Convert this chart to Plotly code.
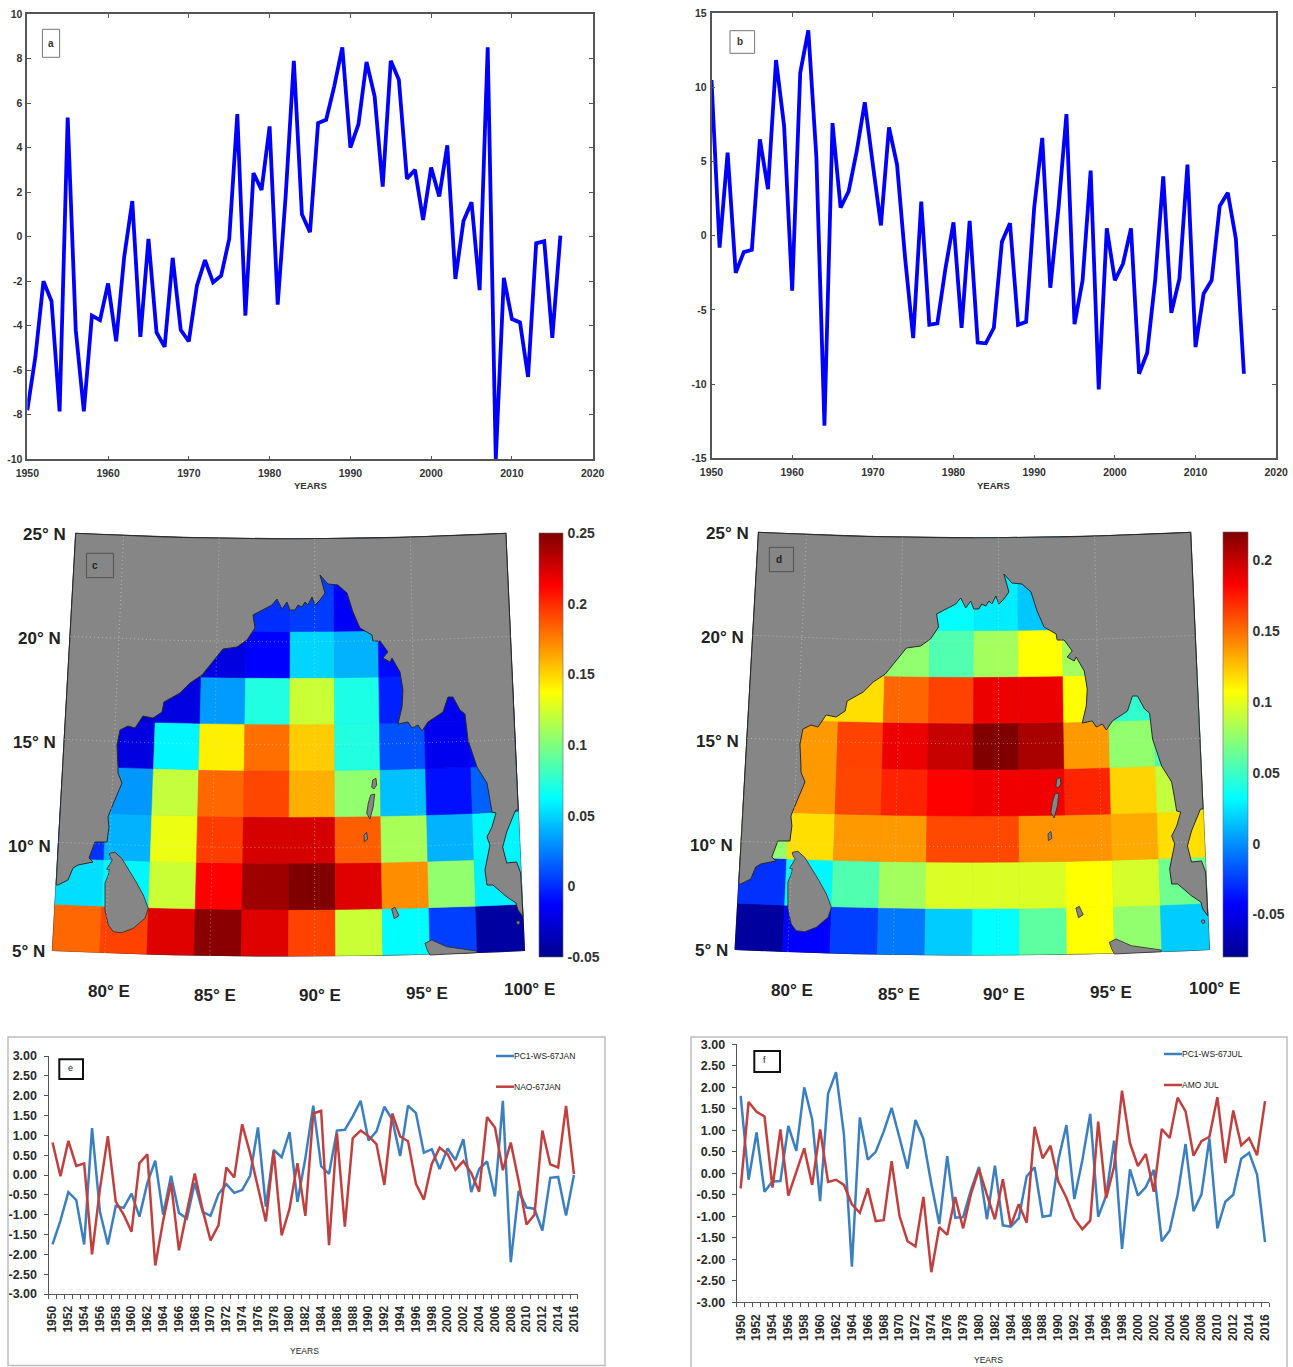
import numpy as np
import plotly.graph_objects as go
from plotly.colors import sample_colorscale

W, H = 1293, 1367
YEARS = list(range(1950, 2017))

PC_JAN_RAW = [-7.8,-5.4,-2.0,-2.9,-7.85,5.35,-4.2,-7.85,-3.55,-3.75,-2.1,-4.7,-0.9,1.6,-4.5,-0.1,-4.3,-4.95,-0.95,-4.2,-4.7,-2.2,-1.05,-2.05,-1.75,-0.1,5.5,-3.55,2.85,2.1,4.95,-3.05,1.9,7.9,1.0,0.2,5.1,5.25,6.75,8.5,4.0,5.05,7.85,6.3,2.25,7.9,7.05,2.6,3.0,0.75,3.1,1.8,4.1,-1.9,0.7,1.55,-2.4,8.5,-10,-1.85,-3.7,-3.85,-6.3,-0.3,-0.2,-4.55,0.05]
PC_JUL_RAW = [10.5,-0.8,5.6,-2.5,-1.1,-0.95,6.5,3.15,11.85,7.4,-3.7,11.0,13.85,5.3,-12.8,7.6,1.9,3.0,5.7,9.0,4.8,0.7,7.3,4.8,-1.5,-6.9,2.3,-6.0,-5.9,-2.2,0.9,-6.2,1.0,-7.2,-7.25,-6.2,-0.4,0.85,-6.0,-5.8,1.9,6.6,-3.5,1.8,8.2,-5.95,-3.0,4.4,-10.35,0.5,-3.0,-1.9,0.5,-9.3,-7.9,-3.0,4.0,-5.2,-2.9,4.8,-7.5,-3.9,-3.0,2.0,2.9,-0.2,-9.3]
PC1_JAN = [-1.75,-1.15,-0.43,-0.63,-1.75,1.18,-0.93,-1.75,-0.78,-0.83,-0.47,-1.05,-0.2,0.36,-1.0,-0.02,-0.96,-1.1,-0.2,-0.93,-1.03,-0.48,-0.23,-0.45,-0.38,-0.02,1.2,-0.8,0.63,0.45,1.08,-0.68,0.42,1.75,0.22,0.03,1.12,1.14,1.48,1.87,0.87,1.1,1.72,1.4,0.48,1.75,1.56,0.56,0.65,0.15,0.67,0.38,0.9,-0.43,0.15,0.34,-0.54,1.87,-2.2,-0.4,-0.82,-0.85,-1.4,-0.07,-0.05,-1.02,0.0]
NAO_JAN = [0.82,-0.03,0.86,0.23,0.29,-2.0,-0.35,0.98,-0.67,-1.0,-1.43,0.3,0.52,-2.28,-1.15,-0.2,-1.9,-0.95,0.04,-0.88,-1.65,-1.27,0.19,-0.06,1.28,0.55,-0.3,-1.17,0.6,-1.52,-0.85,0.3,-1.03,1.55,1.62,-1.77,1.05,-1.3,0.93,1.12,0.98,0.78,-0.25,1.55,0.97,0.85,-0.22,-0.62,0.28,0.69,0.53,0.13,0.35,0.05,-0.42,1.46,1.2,0.12,0.82,-0.15,-1.25,-1.0,1.12,0.27,0.19,1.74,0.02]
PC1_JUL = [1.8,-0.15,0.95,-0.43,-0.19,-0.18,1.1,0.52,2.0,1.25,-0.65,1.85,2.35,0.9,-2.17,1.3,0.32,0.5,0.97,1.52,0.82,0.11,1.24,0.8,-0.25,-1.18,0.4,-1.03,-1.02,-0.38,0.15,-1.07,0.18,-1.21,-1.24,-1.05,-0.07,0.14,-1.01,-0.98,0.32,1.12,-0.6,0.3,1.38,-1.01,-0.52,0.76,-1.76,0.09,-0.52,-0.32,0.08,-1.58,-1.33,-0.5,0.68,-0.88,-0.49,0.81,-1.28,-0.66,-0.5,0.34,0.48,-0.03,-1.6]
AMO_JUL = [-0.35,1.66,1.43,1.32,-0.33,1.02,-0.52,0.05,0.58,-0.27,1.02,-0.2,-0.15,-0.27,-0.72,-0.92,-0.35,-1.11,-1.09,0.28,-1.0,-1.58,-1.7,-0.55,-2.3,-1.25,-1.43,-0.55,-1.28,-0.47,0.1,-0.5,-1.07,-0.14,-1.22,-0.72,-1.15,1.08,0.35,0.64,-0.2,-0.57,-1.05,-1.3,-1.1,1.2,-0.58,0.15,1.92,0.7,0.17,0.45,-0.43,1.03,0.82,1.76,1.44,0.41,0.75,0.85,1.77,0.24,1.46,0.65,0.82,0.42,1.68]

# Map grid values: rows run south to north, columns west to east; None = land only
LON_EDGES = [77.5 + 2.25 * i for i in range(11)]
LAT_EDGES = [4.75 + 2.25 * i for i in range(10)]
N = None
EOF_JAN = [
    [0.182,0.193,0.222,0.247,0.222,0.193,0.122,0.062,0.006,-0.044],
    [0.053,0.060,0.122,0.2125,0.241,0.250,0.222,0.171,0.105,0.058],
    [0.002,0.040,0.132,0.195,0.225,0.225,0.185,0.112,0.040,0.060],
    [N,0.032,0.120,0.182,0.192,0.161,0.105,0.044,-0.008,0.016],
    [N,-0.023,0.060,0.142,0.180,0.1525,0.072,0.0115,-0.0175,-0.010],
    [N,-0.030,-0.023,0.033,0.072,0.122,0.070,-0.003,-0.018,-0.018],
    [N,N,N,-0.023,-0.0125,0.050,0.040,-0.010,N,N],
    [N,N,N,N,0.001,0.005,-0.015,N,N,N],
    [N,N,N,N,N,0.005,-0.015,N,N,N],
]
EOF_JUL = [
    [-0.075,-0.0425,-0.024,-0.007,0.0175,0.0325,0.060,0.1075,0.075,0.0175],
    [-0.028,0.030,0.056,0.080,0.097,0.097,0.097,0.1075,0.095,0.065],
    [0.075,0.117,0.1375,0.1375,0.161,0.161,0.139,0.139,0.1325,0.117],
    [N,0.1375,0.162,0.1726,0.1825,0.187,0.187,0.172,0.120,0.090],
    [N,0.1375,0.163,0.188,0.199,0.220,0.208,0.1375,0.075,0.055],
    [N,0.117,0.117,0.1525,0.163,0.188,0.188,0.1075,0.047,0.047],
    [N,N,N,0.075,0.056,0.080,0.1075,0.080,N,N],
    [N,N,N,N,0.033,0.027,0.016,N,N,N],
    [N,N,N,N,N,0.027,0.016,N,N,N],
]

COAST = [(58,885),(68,880),(73,868),(78,865),(93,862),(89,858),(95,842),(107,842),(109,827),(108,817),(110.7,810),
         (118,792),(122,783),(118,773),(118,767),(117,745),(120,730),(128,726),(135,728),(143,716),(153,718),(162,712),
         (164,702),(180,693),(190,683),(202,675),(217,656),(223,649),(237,647),(247,640),(255,628),(253,615),(272,605),
         (277,599),(282,609),(287,602),(290,610),(295,610),(298,605),(302,607),(305,602),(308,605),(312,597),(315,605),
         (320,600),(325,593),(320,575),(328,584),(338,585),(347,593),(353,612),(360,628),(372,635),(373,641),(380,641),
         (388,652),(383,658),(390,662),(392,658),(400,672),(403,690),(402,707),(398,724),(408,722),(412,728),(418,725),
         (422,731),(428,722),(443,712),(448,697),(453,697),(460,710),(465,714),(468,740),(477,767),(487,783),(490,800),
         (492,812),(496,813),(492,827),(487,837),(490,845),(485,870),(487,885),(493,885),(507,897),(516,903),(518,910),(523,917)]
GULF = [(520.7,873),(516.7,862),(506.7,863),(502.7,847),(506.7,832),(515.7,810)]
ISLANDS = {
    "sri_lanka": [(109.3,853.3),(115,852.3),(121.7,858.3),(130,871.7),(136,881.7),(143.3,895),(148.3,908.3),(145,918.3),
                  (133.3,928.3),(121.7,932.7),(113.3,931.7),(108.3,925),(105,910),(105,883.3),(108.3,875),(109.3,869.3),
                  (106.7,869.3),(112.3,860),(110,856.7)],
    "andaman_n": [(372.7,780),(376,778.3),(376.7,785),(374,789),(371.7,787.3)],
    "andaman_s": [(370.7,795),(374.7,794),(373.3,806.7),(370,819),(366.7,813.3),(368.3,803.3)],
    "little_andaman": [(364,835),(366.7,832.3),(367.7,839.3),(364.3,841.7)],
    "nicobar": [(391.7,909),(395,907.3),(399,915.7),(394.3,918.7)],
    "sumatra": [(425,943.3),(431.7,940),(446.7,946.7),(463.3,949.3),(476.7,951),(476.7,952.7),(430,955),(427.3,950)],
    "penang": [(517,921),(519.5,921),(520,923.5),(518,924.5),(516.5,923)],
}

LAT_TICKS = ["25", "20", "15", "10", "5"]
LAT_LABEL_POS = [(110,72),(97,385),(85,697),(72,1010),(70,1325)]
LON_TICKS = ["80", "85", "90", "95", "100"]
LON_LABEL_POS = [(268,1445),(527,1455),(785,1455),(1045,1450),(1297,1437)]

BLUE, RED = "#3c7fc0", "#c0403f"
LAND = "#868686"
JET = [[0,"rgb(0,0,143)"],[0.125,"rgb(0,0,255)"],[0.375,"rgb(0,255,255)"],
       [0.625,"rgb(255,255,0)"],[0.875,"rgb(255,0,0)"],[1,"rgb(128,0,0)"]]
FONT = "Liberation Sans"
INK = "#333333"


def xd(a, b):
    return [a / W, b / W]


def yd(top, bottom):
    return [1 - bottom / H, 1 - top / H]


def project(lon, lat):
    lon, lat = np.asarray(lon, float), np.asarray(lat, float)
    s = 51.4 + (lat - 4.75) * (46.84 - 51.4) / 20.25
    x = 771 + (lon - 90) * s
    y = 1338 - (lat - 4.75) * 61.8 - 16.5 * ((lon - 88.75) / 11.25) ** 2
    return x, y


def to_plane(points):
    a = np.array(points, float)
    return a[:, 0] * 2.45, (a[:, 1] - 510) * 3


fig = go.Figure()
layout = dict(
    width=W, height=H, autosize=False, margin=dict(l=0, r=0, t=0, b=0, autoexpand=False),
    paper_bgcolor="white", plot_bgcolor="white", showlegend=False,
    font=dict(family=FONT, color=INK),
)
annotations, shapes = [], []


def text_px(x, y, s, size=10, weight="bold", color="#333333", anchor="center"):
    annotations.append(dict(x=x / W, y=1 - y / H, xref="paper", yref="paper", text=s, showarrow=False,
                            xanchor=anchor, yanchor="middle",
                            font=dict(family=FONT, size=size, weight=weight, color=color)))


def rect_px(x0, y0, x1, y1, color="#777777", width=1):
    shapes.append(dict(type="rect", xref="paper", yref="paper", x0=x0 / W, x1=x1 / W, y0=1 - y0 / H, y1=1 - y1 / H,
                       line=dict(color=color, width=width), fillcolor="rgba(0,0,0,0)", layer="above"))


def line_px(x0, x1, y, color):
    shapes.append(dict(type="line", xref="paper", yref="paper", x0=x0 / W, x1=x1 / W, y0=1 - y / H, y1=1 - y / H,
                       line=dict(color=color, width=2.5), layer="above"))


def line_panel(n, values, dom_x, dom_y, yrange, ydtick, xlabel_y, years_x, letter, box):
    ax = "" if n == 1 else str(n)
    fig.add_trace(go.Scatter(x=YEARS, y=values, mode="lines", line=dict(color="#0000ff", width=3.8),
                             xaxis="x" + ax, yaxis="y" + ax, name="PC"))
    common = dict(showgrid=False, zeroline=False, showline=True, linecolor="#555555", linewidth=1.5,
                  mirror="ticks", ticks="inside", ticklen=4, tickcolor="#555555", tickwidth=1,
                  tickfont=dict(family=FONT, size=10.5, weight="bold", color=INK))
    layout["xaxis" + ax] = dict(domain=xd(*dom_x), range=[1950, 2020], dtick=10, tick0=1950,
                                anchor="y" + ax, ticklabelstandoff=3, **common)
    yvals = list(range(yrange[0], yrange[1] + 1, ydtick))
    layout["yaxis" + ax] = dict(domain=yd(*dom_y), range=yrange, tickvals=yvals, ticktext=[str(v) for v in yvals],
                                anchor="x" + ax, ticklabelstandoff=1, **common)
    text_px(years_x, xlabel_y, "YEARS", size=9.5)
    rect_px(*box)
    text_px((box[0] + box[2]) / 2 - (2 if letter == "b" else 0), (box[1] + box[3]) / 2, letter, size=10)


line_panel(1, PC_JAN_RAW, (27.3, 592.7), (14, 459.3), [-10, 10], 2, 486, 310, "a", (42.4, 29.3, 59.6, 57.3))
line_panel(2, PC_JUL_RAW, (711.5, 1276.2), (13.3, 458.3), [-15, 15], 5, 485, 993.6, "b", (730, 30.7, 754.6, 53.3))


def map_panel(n, grid, dom_x, dom_y, vmin, vmax, cbar_x, cbar_y, cb_vals, letter, box, letter_pos):
    ax = str(n)
    refs = dict(xaxis="x" + ax, yaxis="y" + ax, hoverinfo="skip")
    # map background
    bl = np.linspace(LAT_EDGES[0], LAT_EDGES[-1], 9)
    bo = np.linspace(LON_EDGES[0], LON_EDGES[-1], 21)
    blon = np.r_[np.full(9, bo[0]), bo, np.full(9, bo[-1]), bo[::-1]]
    blat = np.r_[bl, np.full(21, bl[-1]), bl[::-1], np.full(21, bl[0])]
    bx, by = project(blon, blat)
    fig.add_trace(go.Scatter(x=bx, y=by, mode="lines", fill="toself", fillcolor=LAND,
                             line=dict(color="#222222", width=1.2), **refs))
    # grid cells
    for r, row in enumerate(grid):
        for c, v in enumerate(row):
            if v is None:
                continue
            lo = np.linspace(LON_EDGES[c], LON_EDGES[c + 1], 4)
            la = [LAT_EDGES[r], LAT_EDGES[r + 1]]
            clon = np.r_[lo, lo[::-1], lo[0]]
            clat = np.r_[np.full(4, la[0]), np.full(4, la[1]), la[0]]
            x, y = project(clon, clat)
            col = sample_colorscale(JET, [(v - vmin) / (vmax - vmin)])[0]
            fig.add_trace(go.Scatter(x=x, y=y, mode="lines", fill="toself", fillcolor=col,
                                     line=dict(color=col, width=0.6), **refs))
    # land over the cells
    lat_r = np.linspace(11.57, 25, 12)
    lon_t = np.linspace(100, 77.5, 21)
    lat_l = np.linspace(25, 7.93, 12)
    rx, ry = project(np.full(12, 100.0), lat_r)
    tx, ty = project(lon_t, np.full(21, 25.0))
    lx, ly = project(np.full(12, 77.5), lat_l)
    sx, sy = project(np.full(5, 100.0), np.linspace(6.38, 8.51, 5))
    cx, cy = to_plane(COAST)
    gx, gy = to_plane(GULF)
    land_x = np.r_[cx, sx, gx, rx, tx, lx, cx[:1]]
    land_y = np.r_[cy, sy, gy, ry, ty, ly, cy[:1]]
    fig.add_trace(go.Scatter(x=land_x, y=land_y, mode="lines", fill="toself", fillcolor=LAND,
                             line=dict(color="#2a2a2a", width=1), **refs))
    for pts in ISLANDS.values():
        ix, iy = to_plane(pts + pts[:1])
        fig.add_trace(go.Scatter(x=ix, y=iy, mode="lines", fill="toself", fillcolor=LAND,
                                 line=dict(color="#2a2a2a", width=0.8), **refs))
    # dotted graticule
    for lon in (80, 85, 90, 95):
        x, y = project(np.full(20, float(lon)), np.linspace(4.75, 25, 20))
        fig.add_trace(go.Scatter(x=x, y=y, mode="lines", line=dict(color="rgba(230,230,230,0.5)", width=1, dash="1px,3px"), **refs))
    for lat in (10, 15, 20):
        x, y = project(np.linspace(77.5, 100, 20), np.full(20, float(lat)))
        fig.add_trace(go.Scatter(x=x, y=y, mode="lines", line=dict(color="rgba(230,230,230,0.5)", width=1, dash="1px,3px"), **refs))
    # colour bar
    fig.add_trace(go.Scatter(
        x=[700], y=[700], mode="markers",
        marker=dict(size=0.1, color=[vmin], cmin=vmin, cmax=vmax, colorscale=JET, showscale=True,
                    colorbar=dict(x=cbar_x[0] / W, xref="paper", xanchor="left", y=1 - cbar_y[0] / H, yref="paper",
                                  yanchor="top", len=(cbar_y[1] - cbar_y[0]) / H, lenmode="fraction",
                                  thickness=cbar_x[1] - cbar_x[0], thicknessmode="pixels", xpad=0, ypad=0,
                                  outlinewidth=0.6, outlinecolor="#666666", ticks="outside", tickcolor="rgba(0,0,0,0)",
                                  ticklen=2, tickvals=cb_vals, ticktext=[f"{v:g}" for v in cb_vals],
                                  tickfont=dict(family=FONT, size=14, weight="bold", color=INK))),
        **refs))
    layout["xaxis" + ax] = dict(domain=xd(*dom_x), range=[0, 1400], visible=False, anchor="y" + ax)
    layout["yaxis" + ax] = dict(domain=yd(*dom_y), range=[1500, 0], visible=False, anchor="x" + ax)
    for (px, py), t in zip(LAT_LABEL_POS, LAT_TICKS):
        annotations.append(dict(x=px, y=py, xref="x" + ax, yref="y" + ax, text=f"{t}° N", showarrow=False,
                                font=dict(family=FONT, size=17, weight="bold", color="#222222")))
    for (px, py), t in zip(LON_LABEL_POS, LON_TICKS):
        annotations.append(dict(x=px, y=py, xref="x" + ax, yref="y" + ax, text=f"{t}° E", showarrow=False,
                                font=dict(family=FONT, size=17, weight="bold", color="#222222")))
    shapes.append(dict(type="rect", xref="x" + ax, yref="y" + ax, x0=box[0], y0=box[1], x1=box[2], y1=box[3],
                       line=dict(color="#444444", width=0.8), fillcolor="rgba(0,0,0,0)", layer="above"))
    annotations.append(dict(x=letter_pos[0], y=letter_pos[1], xref="x" + ax, yref="y" + ax, text=letter, showarrow=False,
                            font=dict(family=FONT, size=10, weight="bold", color="#222222")))


map_panel(3, EOF_JAN, (0, 571.4), (510, 1010), -0.05, 0.25, (538.5, 562.7), (533, 957),
          [0.25, 0.2, 0.15, 0.1, 0.05, 0, -0.05], "c", (212, 130, 278, 203), (233, 167))
map_panel(4, EOF_JUL, (682.4, 1256.5), (509, 1009), -0.08, 0.22, (1223, 1248), (532, 957),
          [0.2, 0.15, 0.1, 0.05, 0, -0.05], "d", (212, 115, 271, 188), (236, 150))


def excel_panel(n, s1, s2, names, dom_x, dom_y, frame, legend_x, legend_y, years_pos, letter, box, letter_pos):
    ax = str(n)
    for vals, col, nm in ((s1, BLUE, names[0]), (s2, RED, names[1])):
        fig.add_trace(go.Scatter(x=YEARS, y=vals, mode="lines", name=nm, line=dict(color=col, width=2.5),
                                 xaxis="x" + ax, yaxis="y" + ax))
    layout["xaxis" + ax] = dict(domain=xd(*dom_x), range=[1949.5, 2016.5], tick0=1950, dtick=2, anchor="y" + ax,
                                showgrid=False, zeroline=False, showline=True, linecolor="#555555", linewidth=1.2,
                                ticks="", tickangle=-90, ticklabelstandoff=6,
                                minor=dict(ticks="outside", tick0=1949.5, dtick=1, ticklen=4, tickcolor="#555555", tickwidth=1, showgrid=False),
                                tickfont=dict(family=FONT, size=12, weight="bold", color="#2a2a2a"))
    yvals = [-3 + 0.5 * i for i in range(13)]
    layout["yaxis" + ax] = dict(domain=yd(*dom_y), range=[-3, 3], tickvals=yvals, ticktext=[f"{v:.2f}" for v in yvals],
                                anchor="x" + ax,
                                showgrid=False, zeroline=False, showline=True, linecolor="#555555", linewidth=1.2,
                                ticks="outside", ticklen=4, tickcolor="#555555", ticklabelstandoff=4,
                                tickfont=dict(family=FONT, size=12.5, weight="bold", color="#2a2a2a"))
    rect_px(*frame, color="#bdbdbd", width=1.5)
    for nm, col, y in zip(names, (BLUE, RED), legend_y):
        line_px(legend_x - 18, legend_x, y, col)
        text_px(legend_x - 2.5, y, nm, size=8.5, anchor="left", weight="normal", color="#222222")
    text_px(*years_pos, "YEARS", size=8.5, weight="normal", color="#222222")
    rect_px(*box, color="#111111", width=2)
    text_px(*letter_pos, letter, size=9, weight="normal", color="#222222")


excel_panel(5, PC1_JAN, NAO_JAN, ("PC1-WS-67JAN", "NAO-67JAN"), (48.6, 577.9), (1056, 1294),
            (8, 1037, 605, 1365.5), 514, (1056, 1086.7), (304, 1350.7), "e", (59.3, 1059.3, 83, 1079), (70.2, 1068))
excel_panel(6, PC1_JUL, AMO_JUL, ("PC1-WS-67JUL", "AMO JUL"), (736.7, 1269), (1044.3, 1302.3),
            (691, 1037, 1287, 1372), 1182, (1054, 1085), (988.8, 1360), "f", (754.3, 1051, 780, 1072), (764.8, 1060))

layout["annotations"] = annotations
layout["shapes"] = shapes
fig.update_layout(**layout)
fig.write_html("out.html", post_script="document.body.style.margin='0';", config={"displayModeBar": False})
